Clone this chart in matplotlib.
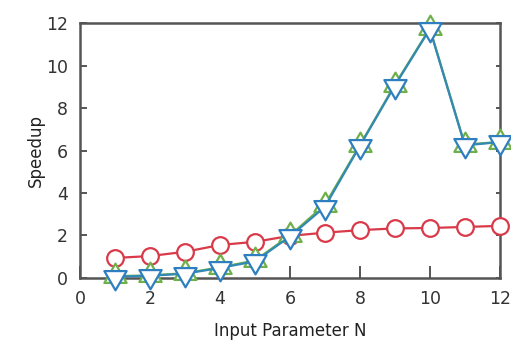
import matplotlib
matplotlib.use('Agg')
import matplotlib.pyplot as plt
from matplotlib.path import Path

# speedup measurements per input parameter N
n_values = [1, 2, 3, 4, 5, 6, 7, 8, 9, 10, 11, 12]
baseline = [0.94, 1.03, 1.23, 1.55, 1.70, 1.98, 2.13, 2.25, 2.33, 2.35, 2.40, 2.45]
variant_a = [0.08, 0.12, 0.22, 0.50, 0.82, 2.00, 3.45, 6.25, 9.10, 11.75, 6.28, 6.40]
variant_b = [0.06, 0.10, 0.20, 0.47, 0.78, 1.95, 3.35, 6.22, 9.06, 11.72, 6.24, 6.40]

x_ticks = [0, 2, 4, 6, 8, 10, 12]
y_ticks = [0, 2, 4, 6, 8, 10, 12]

# triangles centred on their centroid, so up/down overlap as a star
tri_up = Path([(0, 1), (-0.866, -0.5), (0.866, -0.5), (0, 1)], closed=True)
tri_down = Path([(0, -1), (-0.866, 0.5), (0.866, 0.5), (0, -1)], closed=True)

plt.rcParams['font.family'] = 'DejaVu Sans'

fig = plt.figure(figsize=(5.11, 3.5), dpi=100)
ax = fig.add_axes([0.157, 0.206, 0.821, 0.728])

ax.plot(n_values, baseline, color='#d93a4a', linewidth=1.6, marker='o',
        markersize=12, markerfacecolor='white', markeredgecolor='#d93a4a',
        markeredgewidth=1.6, clip_on=False, zorder=3)
ax.plot(n_values, variant_a, color='#6fb04a', linewidth=1.6, marker=tri_up,
        markersize=18.5, markerfacecolor='white', markeredgecolor='#6fb04a',
        markeredgewidth=1.6, clip_on=False, zorder=4)
ax.plot(n_values, variant_b, color='#3389b5', linewidth=1.6, marker=tri_down,
        markersize=18.5, markerfacecolor='white', markeredgecolor='#2f7fc0',
        markeredgewidth=1.6, clip_on=False, zorder=5)

ax.set_xlim(0, 12)
ax.set_ylim(0, 12)
ax.set_xticks(x_ticks)
ax.set_yticks(y_ticks)

for side in ['left', 'bottom', 'top', 'right']:
    ax.spines[side].set_color('#555555')
    ax.spines[side].set_linewidth(1.8)

ax.tick_params(axis='x', direction='in', length=9, width=1.4, color='#555555',
               labelsize=12.5, pad=9, top=False, labelcolor='#333333')
ax.tick_params(axis='y', direction='in', length=5, width=1.4, color='#555555',
               labelsize=12.5, pad=9, right=True, labelcolor='#333333')
for t in ax.yaxis.get_ticklines()[1::2]:
    t.set_markersize(3)

ax.set_xlabel('Input Parameter N', fontsize=12, labelpad=10, color='#222222')
ax.set_ylabel('Speedup', fontsize=12, labelpad=0.5, color='#222222')

fig.savefig('out.png', dpi=100)
